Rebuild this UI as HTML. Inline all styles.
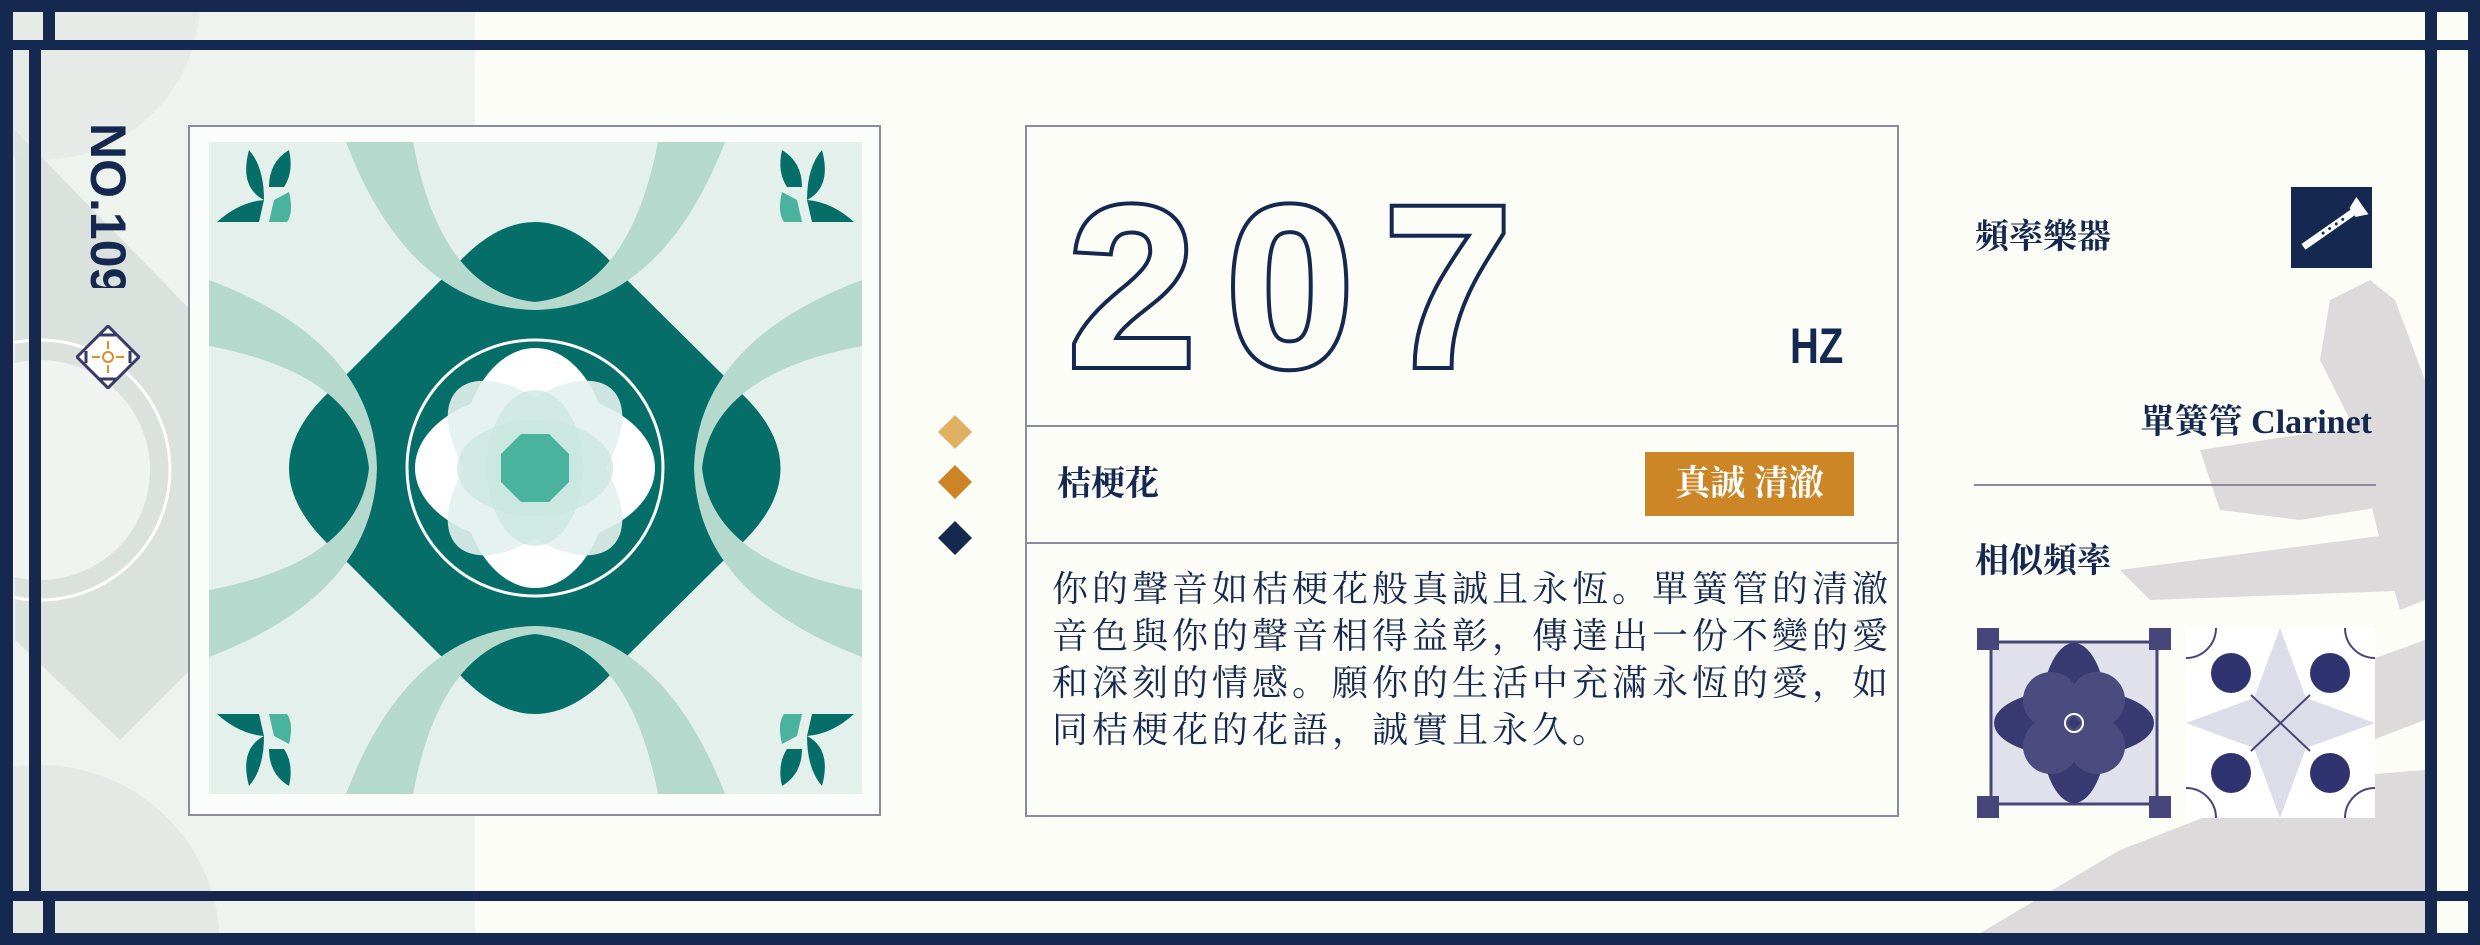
<!DOCTYPE html>
<html><head><meta charset="utf-8"><style>
*{margin:0;padding:0;box-sizing:border-box}
html,body{width:2480px;height:945px;overflow:hidden}
body{background:#fdfdf8;position:relative;font-family:"Liberation Serif","Noto Serif CJK SC",serif;color:#15284f}
.abs{position:absolute}
.navy{background:#15284f}
</style></head><body>
<svg class="abs" style="left:0;top:0" width="2480" height="945">
 <rect x="0" y="0" width="475" height="945" fill="#e8eee9" opacity="0.7"/>
 <polygon points="15,130 210,330 210,650 120,740 15,640" fill="#d6dcd8" opacity="0.8"/>
 <circle cx="40" cy="470" r="130" fill="none" stroke="#fff" stroke-width="3"/>
 <circle cx="40" cy="470" r="110" fill="#fff" opacity="0.6"/>
 <circle cx="40" cy="945" r="180" fill="#dde3df" opacity="0.6"/>
 <circle cx="40" cy="0" r="160" fill="#dde3df" opacity="0.5"/>
 <g fill="#dcdadb">
  <polygon points="2330,300 2370,280 2395,300 2425,380 2425,600 2400,610 2380,540 2350,420 2320,360"/>
  <polygon points="2200,450 2330,430 2425,440 2425,500 2300,520 2220,510"/>
  <polygon points="2120,570 2425,530 2425,590 2150,600"/>
  <polygon points="2260,700 2425,640 2425,720 2320,760"/>
  <polygon points="1960,945 2120,850 2300,780 2425,770 2425,945"/>
 </g>
</svg>
<!-- frame -->
<div class="abs navy" style="left:0;top:0;width:2480px;height:12px"></div>
<div class="abs navy" style="left:0;top:40px;width:2480px;height:10px"></div>
<div class="abs navy" style="left:0;top:933px;width:2480px;height:12px"></div>
<div class="abs navy" style="left:0;top:891px;width:2480px;height:10px"></div>
<div class="abs navy" style="left:0;top:0;width:13px;height:945px"></div>
<div class="abs navy" style="left:29px;top:40px;width:12px;height:861px"></div>
<div class="abs navy" style="left:43px;top:12px;width:12px;height:30px"></div>
<div class="abs navy" style="left:43px;top:901px;width:12px;height:32px"></div>
<div class="abs navy" style="left:2425px;top:12px;width:12px;height:921px"></div>
<div class="abs navy" style="left:2468px;top:0;width:12px;height:945px"></div>

<div class="abs" style="left:84px;top:123px;width:48px;height:165px;overflow:hidden">
 <div style="position:absolute;left:48px;top:0;font:bold 50px/48px 'Liberation Sans',sans-serif;white-space:nowrap;transform:rotate(90deg);transform-origin:0 0">NO.109</div>
</div>
<svg class="abs" style="left:76px;top:325px" width="64" height="64">
 <polygon points="32,1 63,32 32,63 1,32" fill="#fff" stroke="#3a3a6a" stroke-width="3"/>
 <circle cx="32" cy="32" r="5" fill="none" stroke="#e08a2a" stroke-width="2"/>
 <g stroke="#e08a2a" stroke-width="2"><line x1="32" y1="16" x2="32" y2="24"/><line x1="32" y1="40" x2="32" y2="48"/><line x1="16" y1="32" x2="24" y2="32"/><line x1="40" y1="32" x2="48" y2="32"/></g>
 <g stroke="#3a3a6a" stroke-width="3"><line x1="10" y1="26" x2="10" y2="38"/><line x1="54" y1="26" x2="54" y2="38"/><line x1="24" y1="10" x2="40" y2="10"/><line x1="24" y1="54" x2="40" y2="54"/></g>
</svg>

<!-- tile panel -->
<div class="abs" style="left:188px;top:125px;width:693px;height:691px;border:2px solid #8a8aa0;background:#fbfdfa"></div>
<svg class="abs" style="left:209px;top:142px" width="653" height="652" viewBox="0 0 653 652">
 <rect width="653" height="652" fill="#e3f0ec"/>
 <path d="M250,120 Q326,40 402,120 L419,139 L512,231 L531,250 Q612,326 531,403 L512,421 L419,513 L402,532 Q326,612 250,532 L231,513 L139,421 L120,403 Q40,326 120,250 L139,231 L231,139 Z" fill="#066e69"/>
 <g fill="#b5d9cc">
  <path d="M137,0 Q200,165 326,168 Q452,165 516,0 L449,0 Q420,150 326,160 Q232,150 204,0 Z"/>
  <path d="M137,652 Q200,487 326,484 Q452,487 516,652 L449,652 Q420,502 326,492 Q232,502 204,652 Z"/>
  <path d="M0,138 Q165,200 168,326 Q165,452 0,515 L0,448 Q150,420 160,326 Q150,232 0,204 Z"/>
  <path d="M653,138 Q488,200 485,326 Q488,452 653,515 L653,448 Q503,420 493,326 Q503,232 653,204 Z"/>
 </g>
 <circle cx="326" cy="326" r="128" fill="none" stroke="#fff" stroke-width="3"/>
 <g fill="#fff">
  <ellipse cx="326" cy="326" rx="120" ry="76"/>
  <ellipse cx="326" cy="326" rx="76" ry="120"/>
 </g>
 <g fill="#e4f1ee" opacity="0.9">
  <ellipse cx="326" cy="326" rx="110" ry="56" transform="rotate(45 326 326)"/>
  <ellipse cx="326" cy="326" rx="110" ry="56" transform="rotate(-45 326 326)"/>
 </g>
 <ellipse cx="326" cy="326" rx="48" ry="78" fill="#c8e5de" opacity="0.7"/>
 <ellipse cx="326" cy="326" rx="78" ry="48" fill="#c8e5de" opacity="0.7"/>
 <polygon points="312,292 340,292 360,312 360,340 340,360 312,360 292,340 292,312" fill="#4ab39e"/>
 <g fill="#066e69">
  <g id="c1"><path d="M8,80 Q30,60 55,58 L50,80 Z"/><path d="M40,8 Q55,25 55,58 Q30,45 40,8Z"/><path d="M80,8 Q85,30 75,45 L60,45 Q60,20 80,8Z"/><path d="M65,58 L80,50 Q85,70 78,80 L60,80Z" fill="#4ab39e"/></g>
  <use href="#c1" transform="translate(653,0) scale(-1,1)"/>
  <use href="#c1" transform="translate(0,652) scale(1,-1)"/>
  <use href="#c1" transform="translate(653,652) scale(-1,-1)"/>
 </g>
</svg>

<!-- diamonds -->
<svg class="abs" style="left:937px;top:415px" width="36" height="145">
 <polygon points="18,0 35,17 18,34 1,17" fill="#e2b062"/>
 <polygon points="18,50 35,67 18,84 1,67" fill="#cc8424"/>
 <polygon points="18,106 35,123 18,140 1,123" fill="#15284f"/>
</svg>

<!-- middle panel -->
<div class="abs" style="left:1025px;top:125px;width:874px;height:692px;border:2px solid #8a8aa0"></div>
<div class="abs" style="left:1025px;top:425px;width:874px;height:2px;background:#8a8aa0"></div>
<div class="abs" style="left:1025px;top:542px;width:874px;height:2px;background:#8a8aa0"></div>
<div class="abs" style="left:1068px;top:172px;height:230px;font:bold 230px/230px 'Liberation Sans',sans-serif;color:#fdfdf8;-webkit-text-stroke:8px #15284f;paint-order:stroke fill;letter-spacing:30px;white-space:nowrap">207</div>
<div class="abs" style="left:1790px;top:320px;font:bold 50px/52px 'Liberation Sans',sans-serif;transform:scaleX(0.8);transform-origin:0 0">HZ</div>
<div class="abs" style="left:1057px;top:462px;font:bold 34px/46px 'Liberation Serif','Noto Serif CJK SC',serif">桔梗花</div>
<div class="abs" style="left:1645px;top:452px;width:209px;height:64px;background:#cc8626;color:#fff;font:bold 35px/64px 'Liberation Serif','Noto Serif CJK SC',serif;text-align:center">真誠 清澈</div>
<div class="abs" style="left:1052px;top:566px;width:845px;font:36px/47px 'Liberation Serif','Noto Serif CJK SC',serif;letter-spacing:4px">你的聲音如桔梗花般真誠且永恆。單簧管的清澈音色與你的聲音相得益彰，傳達出一份不變的愛和深刻的情感。願你的生活中充滿永恆的愛，如同桔梗花的花語，誠實且永久。</div>

<!-- right -->
<div class="abs" style="left:1975px;top:215px;font:bold 34px/46px 'Liberation Serif','Noto Serif CJK SC',serif">頻率樂器</div>
<svg class="abs" style="left:2291px;top:187px" width="81" height="81">
 <rect width="81" height="81" fill="#15284f"/>
 <g transform="rotate(-35 40 40)"><rect x="6" y="37" width="62" height="7" fill="#fff"/><polygon points="66,35 78,30 78,51 66,46" fill="#fff"/><g fill="#15284f"><circle cx="30" cy="40.5" r="1.5"/><circle cx="38" cy="40.5" r="1.5"/><circle cx="46" cy="40.5" r="1.5"/><circle cx="54" cy="40.5" r="1.5"/></g></g>
</svg>
<div class="abs" style="left:2000px;top:400px;width:372px;text-align:right;font:bold 34px/46px 'Liberation Serif','Noto Serif CJK SC',serif;white-space:nowrap">單簧管 Clarinet</div>
<div class="abs" style="left:1974px;top:484px;width:402px;height:2px;background:#8a8aa0"></div>
<div class="abs" style="left:1975px;top:539px;font:bold 34px/46px 'Liberation Serif','Noto Serif CJK SC',serif">相似頻率</div>
<svg class="abs" style="left:1977px;top:628px" width="194" height="190" viewBox="0 0 194 190">
 <rect width="194" height="190" fill="#fdfdf8"/>
 <rect x="14" y="14" width="166" height="162" fill="#e1e1ec" stroke="#46467a" stroke-width="3"/>
 <g fill="#46467a"><rect x="0" y="0" width="22" height="22"/><rect x="172" y="0" width="22" height="22"/><rect x="0" y="168" width="22" height="22"/><rect x="172" y="168" width="22" height="22"/></g>
 <g fill="#3a3a72"><ellipse cx="97" cy="95" rx="80" ry="34"/><ellipse cx="97" cy="95" rx="34" ry="80"/></g>
 <g fill="#4b4b80"><circle cx="74" cy="72" r="28"/><circle cx="120" cy="72" r="28"/><circle cx="74" cy="118" r="28"/><circle cx="120" cy="118" r="28"/></g>
 <circle cx="97" cy="95" r="9" fill="none" stroke="#fff" stroke-width="2"/>
</svg>
<svg class="abs" style="left:2186px;top:628px" width="189" height="190" viewBox="0 0 189 190">
 <rect width="189" height="190" fill="#fff"/>
 <polygon points="94,0 120,70 189,95 120,120 94,190 68,120 0,95 68,70" fill="#dddde9"/>
 <g stroke="#46467a" stroke-width="2"><line x1="65" y1="67" x2="124" y2="123"/><line x1="124" y1="67" x2="65" y2="123"/></g>
 <g fill="#2f3470">
  <circle cx="45" cy="45" r="20"/><circle cx="144" cy="45" r="20"/><circle cx="45" cy="145" r="20"/><circle cx="144" cy="145" r="20"/>
 </g>
 <g fill="none" stroke="#46467a" stroke-width="2"><circle cx="0" cy="0" r="30"/><circle cx="189" cy="0" r="30"/><circle cx="0" cy="190" r="30"/><circle cx="189" cy="190" r="30"/></g>
</svg>
</body></html>
